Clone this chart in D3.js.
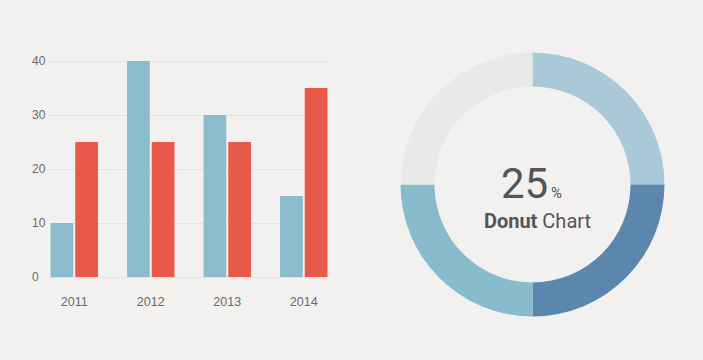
<!DOCTYPE html>
<html>
<head>
<meta charset="utf-8">
<script src="https://cdn.jsdelivr.net/npm/d3@7"></script>
<style>
  html, body { margin: 0; padding: 0; background: #f3f1f0; }
  svg { display: block; font-family: Roboto, "Noto Sans", sans-serif; }
  .grid line { stroke: #e4e1e0; }
  .grid .domain { display: none; }
  .axis text { fill: #6a6a6a; font-size: 12px; }
  .axis .domain, .axis line { display: none; }
</style>
</head>
<body>
<script>
// bar chart data
const years = ["2011", "2012", "2013", "2014"];
const blueValues = [10, 40, 30, 15];
const redValues = [25, 25, 25, 35];
const yTicks = [0, 10, 20, 30, 40];

// donut data
const donutParts = ["q1", "q2", "q3", "q4"];
const donutValues = [25, 25, 25, 25];
const donutColors = ["#a9c9d8", "#5b87af", "#88bccd", "#eae9e9"];

const width = 703, height = 360;

const svg = d3.select("body").append("svg")
  .attr("width", width)
  .attr("height", height);

// ---- bar chart ----
const plot = {left: 49, right: 329, top: 61, bottom: 277};

const x0 = d3.scaleBand()
  .domain(years)
  .range([plot.left, plot.right])
  .paddingInner(0.38)
  .paddingOuter(0.02);

const x1 = d3.scaleBand()
  .domain(["blue", "red"])
  .range([0, x0.bandwidth()])
  .paddingInner(0.08);

const y = d3.scaleLinear()
  .domain([0, 40])
  .range([plot.bottom, plot.top]);

svg.append("g")
  .attr("class", "grid")
  .attr("transform", "translate(" + plot.left + ",0)")
  .call(d3.axisLeft(y).tickValues(yTicks).tickSize(-(plot.right - plot.left)).tickFormat(""));

// y labels are left-aligned in the picture
const yAxis = svg.append("g")
  .attr("class", "axis")
  .attr("transform", "translate(32,0)")
  .call(d3.axisLeft(y).tickValues(yTicks).tickSize(0).tickPadding(0));
yAxis.selectAll("text").attr("text-anchor", "start");

svg.append("g")
  .attr("class", "axis")
  .attr("transform", "translate(0," + (plot.bottom + 15) + ")")
  .call(d3.axisBottom(x0).tickSize(0).tickPadding(5))
  .selectAll("text").style("font-size", "12.5px");

const groups = svg.append("g")
  .selectAll("g")
  .data(years)
  .join("g")
  .attr("transform", d => "translate(" + x0(d) + ",0)");

groups.append("rect")
  .attr("x", x1("blue"))
  .attr("width", x1.bandwidth())
  .attr("y", (d, i) => y(blueValues[i]))
  .attr("height", (d, i) => y(0) - y(blueValues[i]))
  .attr("fill", "#8bbccd");

groups.append("rect")
  .attr("x", x1("red"))
  .attr("width", x1.bandwidth())
  .attr("y", (d, i) => y(redValues[i]))
  .attr("height", (d, i) => y(0) - y(redValues[i]))
  .attr("fill", "#e8594a");

// ---- donut ----
const cx = 532.5, cy = 184.5;
const pie = d3.pie().sort(null).value(d => d.v);
const arc = d3.arc().innerRadius(98).outerRadius(132);

const donut = svg.append("g")
  .attr("transform", "translate(" + cx + "," + cy + ")");

donut.selectAll("path")
  .data(pie(donutParts.map((k, i) => ({k: k, v: donutValues[i]}))))
  .join("path")
  .attr("d", arc)
  .attr("fill", (d, i) => donutColors[i]);

const pct = donut.append("text")
  .attr("x", -1)
  .attr("y", 13)
  .attr("text-anchor", "middle")
  .attr("fill", "#555");
pct.append("tspan").text(donutValues[0]).style("font-size", "42px");
pct.append("tspan").text("%").attr("dx", 3).style("font-size", "15px");

const label = donut.append("text")
  .attr("x", 5)
  .attr("y", 43)
  .attr("text-anchor", "middle")
  .attr("fill", "#555")
  .style("font-size", "20px");
label.append("tspan").text("Donut").style("font-weight", "bold");
label.append("tspan").text(" Chart");
</script>
</body>
</html>
